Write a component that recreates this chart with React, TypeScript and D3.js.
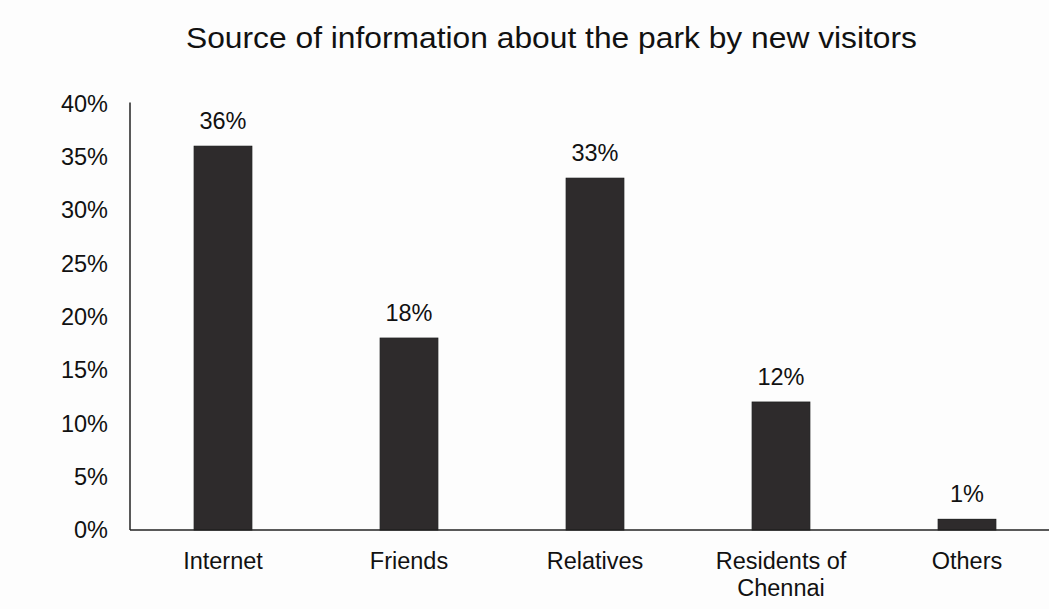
import React from "react";
import * as d3 from "d3";

const categories: string[][] = [["Internet"], ["Friends"], ["Relatives"], ["Residents of", "Chennai"], ["Others"]];
const values: number[] = [36, 18, 33, 12, 1];
const yTicks: number[] = [0, 5, 10, 15, 20, 25, 30, 35, 40];
const title = "Source of information about the park by new visitors";

export default function App() {
  const W = 1049, H = 609;
  const x0 = 130, baseY = 530, topY = 103.6;
  const keys = categories.map((c) => c.join(" "));
  const x = d3.scaleBand<string>().domain(keys).range([x0, x0 + 5 * 186]).paddingInner(0.69).paddingOuter(0.345);
  const y = d3.scaleLinear().domain([0, 40]).range([baseY, topY]);
  const font = "Arial, 'Liberation Sans', sans-serif";
  const fs = 23.5;
  return (
    <svg width={W} height={H} style={{ position: "absolute", left: 0, top: 0, background: "#fdfdfd" }}>
      <rect x={0} y={0} width={W} height={H} fill="#fdfdfd" />
      <text x={551.5} y={48} textAnchor="middle" fontFamily={font} fontSize={30} textLength={731} lengthAdjust="spacingAndGlyphs" fill="#111">{title}</text>
      {yTicks.map((t) => (
        <text key={t} x={108} y={y(t)} dy="0.35em" textAnchor="end" fontFamily={font} fontSize={fs} fill="#111">{t}%</text>
      ))}
      {values.map((v, i) => {
        const k = keys[i];
        const bx = x(k)!;
        const bw = x.bandwidth();
        return (
          <g key={k}>
            <rect x={bx} y={y(v)} width={bw} height={baseY - y(v)} fill="#2e2b2c" stroke="#1a1a1a" strokeWidth={1} />
            <text x={bx + bw / 2} y={y(v) - 17} textAnchor="middle" fontFamily={font} fontSize={fs} fill="#111">{v}%</text>
            {categories[i].map((line, j) => (
              <text key={j} x={bx + bw / 2} y={569 + j * 27} textAnchor="middle" fontFamily={font} fontSize={fs} fill="#111">{line}</text>
            ))}
          </g>
        );
      })}
      <line x1={x0} x2={x0} y1={topY - 1} y2={baseY} stroke="#222" strokeWidth={1.5} />
      <line x1={x0} x2={W} y1={baseY} y2={baseY} stroke="#222" strokeWidth={1.5} />
    </svg>
  );
}
